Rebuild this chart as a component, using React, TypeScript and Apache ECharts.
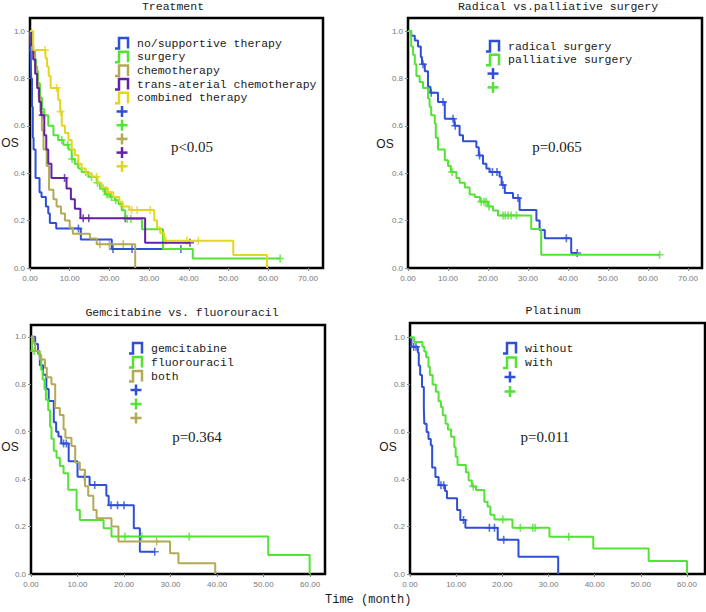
import React, { useEffect, useRef } from 'react';
import * as echarts from 'echarts';

const BLUE = '#2E4FD6';
const GREEN = '#52E334';
const OLIVE = '#B2AA55';
const PURPLE = '#6322A6';
const YELLOW = '#E2D61E';

// ---------- Panel titles / texts ----------
const titles = ['Treatment', 'Radical vs.palliative surgery', 'Gemcitabine vs. fluorouracil', 'Platinum'];
const pValues = ['p<0.05', 'p=0.065', 'p=0.364', 'p=0.011'];
const xTicksWide = [0, 10, 20, 30, 40, 50, 60, 70];
const xTicksNarrow = [0, 10, 20, 30, 40, 50, 60];
const yTicks = [0, 0.2, 0.4, 0.6, 0.8, 1.0];

// ---------- Panel 1: Treatment ----------
const p1Names = ['no/supportive therapy', 'surgery', 'chemotherapy', 'trans-aterial chemotherapy', 'combined therapy'];
const p1NoneT = [0, 0.15, 0.3, 0.5, 0.7, 0.9, 1.4, 2.4, 2.9, 4.0, 4.6, 5.0, 6.6, 12.8, 20.6, 38];
const p1NoneS = [1.0, 0.9, 0.8, 0.68, 0.55, 0.5, 0.38, 0.32, 0.3, 0.26, 0.23, 0.19, 0.167, 0.12, 0.08, 0.08];
const p1NoneC = [12.2, 20.9, 25.7, 38];

const p1SurgT = [0, 0.3, 0.7, 1.0, 1.5, 2.0, 2.5, 3.0, 3.6, 4.6, 5.9, 7.1, 8.4, 9.7, 10.5, 11.3, 12.2, 13.0, 14.7, 16.8, 17.6, 18.9, 20.2, 21.4, 22.3, 23.1, 24.0, 28.2, 33.5, 41, 63];
const p1SurgS = [1.0, 0.95, 0.92, 0.88, 0.83, 0.78, 0.72, 0.67, 0.645, 0.6, 0.56, 0.54, 0.52, 0.5, 0.46, 0.44, 0.42, 0.405, 0.385, 0.36, 0.335, 0.31, 0.3, 0.286, 0.27, 0.244, 0.207, 0.163, 0.08, 0.04, 0.04];
const p1SurgC = [8.0, 9.5, 10.6, 12.0, 14.0, 15.5, 17.0, 18.4, 19.4, 20.5, 21.6, 24.5, 25.4, 63];

const p1ChemoT = [0, 0.5, 1.3, 1.8, 2.2, 2.6, 3.0, 3.4, 4.2, 4.8, 5.9, 6.7, 7.8, 8.8, 10.0, 10.8, 15.1, 16.8, 26.5];
const p1ChemoS = [1.0, 0.92, 0.85, 0.78, 0.72, 0.66, 0.58, 0.5, 0.43, 0.33, 0.29, 0.26, 0.23, 0.2, 0.17, 0.145, 0.124, 0.1, 0.0];
const p1ChemoC = [0.8, 17.6, 20.0, 23.5];

const p1TaceT = [0, 0.3, 0.8, 1.3, 1.8, 2.3, 2.8, 3.6, 4.1, 4.6, 5.4, 9.2, 10.3, 11.3, 12.7, 29, 40.3];
const p1TaceS = [1.0, 0.94, 0.88, 0.82, 0.76, 0.7, 0.645, 0.56, 0.5, 0.44, 0.38, 0.335, 0.29, 0.25, 0.21, 0.107, 0.107];
const p1TaceC = [3.2, 8.7, 13.4, 14.8, 24.0, 40.3];

const p1CombT = [0, 0.8, 3.9, 4.3, 4.7, 5.2, 5.9, 7.1, 7.6, 8.0, 8.8, 9.7, 10.5, 11.3, 12.2, 13.0, 14.0, 15.5, 17.0, 18.0, 19.5, 21.0, 22.5, 23.3, 25.0, 31.3, 32.0, 32.8, 33.8, 51.2, 59.7];
const p1CombS = [1.0, 0.92, 0.885, 0.85, 0.81, 0.76, 0.76, 0.71, 0.66, 0.6, 0.57, 0.54, 0.5, 0.476, 0.44, 0.42, 0.4, 0.385, 0.36, 0.34, 0.32, 0.3, 0.28, 0.26, 0.245, 0.2, 0.17, 0.147, 0.115, 0.055, 0.0];
const p1CombC = [3.8, 6.7, 7.7, 16.8, 19.7, 23.5, 25.6, 27.0, 30.3, 34.2, 39.5, 42.4];

// ---------- Panel 2: Radical vs palliative ----------
const p2Names = ['radical surgery', 'palliative surgery'];
const p2RadT = [0, 0.8, 1.7, 2.5, 3.2, 3.5, 4.2, 5.0, 5.6, 7.5, 9.2, 11.6, 12.9, 13.75, 17.1, 17.7, 18.75, 19.6, 20.4, 22.9, 23.4, 24.2, 26.25, 27.9, 32.1, 32.9, 34.2, 40.8, 42.3];
const p2RadS = [1.0, 0.98, 0.96, 0.935, 0.89, 0.86, 0.83, 0.765, 0.74, 0.7, 0.63, 0.6, 0.56, 0.535, 0.51, 0.475, 0.44, 0.42, 0.405, 0.385, 0.35, 0.316, 0.295, 0.245, 0.2, 0.16, 0.126, 0.063, 0.063];
const p2RadC = [3.75, 5.8, 8.75, 11.25, 11.8, 17.9, 21.1, 22.25, 23.75, 27.5, 39.6, 42.3];

const p2PalT = [0, 0.8, 1.25, 1.7, 2.1, 2.9, 3.75, 5.0, 5.4, 5.8, 6.7, 6.95, 7.5, 9.2, 10.0, 10.7, 12.1, 12.9, 14.2, 15.4, 16.7, 18.0, 20.0, 21.25, 22.5, 30.8, 33.3, 62.9];
const p2PalS = [1.0, 0.935, 0.9, 0.86, 0.81, 0.785, 0.76, 0.715, 0.68, 0.645, 0.61, 0.55, 0.5, 0.455, 0.43, 0.405, 0.38, 0.36, 0.34, 0.31, 0.3, 0.28, 0.26, 0.243, 0.222, 0.165, 0.056, 0.056];
const p2PalC = [11.0, 18.3, 19.0, 19.5, 20.25, 23.75, 24.3, 25.0, 25.8, 27.1, 62.9];

// ---------- Panel 3: Gemcitabine vs fluorouracil ----------
const p3Names = ['gemcitabine', 'fluorouracil', 'both'];
const p3GemT = [0, 0.9, 1.5, 1.9, 2.6, 3.3, 3.8, 4.9, 5.4, 5.9, 6.5, 8.1, 10.0, 12.6, 16.2, 16.7, 22.1, 23.4, 26.6];
const p3GemS = [1.0, 0.97, 0.93, 0.88, 0.84, 0.78, 0.73, 0.64, 0.6, 0.58, 0.55, 0.475, 0.41, 0.375, 0.33, 0.29, 0.193, 0.094, 0.094];
const p3GemC = [7.0, 7.6, 11.5, 13.7, 17.2, 18.6, 20.0, 26.6];

const p3FluT = [0, 0.2, 1.6, 2.2, 2.5, 2.9, 3.2, 3.7, 4.1, 4.4, 4.9, 5.5, 6.2, 7.0, 8.0, 9.8, 10.5, 15.6, 17.3, 51, 59.9];
const p3FluS = [1.0, 0.94, 0.925, 0.86, 0.82, 0.78, 0.735, 0.69, 0.62, 0.57, 0.52, 0.49, 0.455, 0.425, 0.355, 0.27, 0.228, 0.193, 0.158, 0.08, 0.0];
const p3FluC = [0.7, 20.2, 23.8, 34.0];

const p3BothT = [0, 0.5, 0.9, 1.9, 3.0, 3.4, 4.4, 5.2, 6.2, 7.0, 7.4, 8.7, 9.5, 10.5, 11.6, 12.3, 13.4, 14.1, 17.3, 18.8, 29.9, 31.7, 39.6];
const p3BothS = [1.0, 0.975, 0.94, 0.905, 0.87, 0.83, 0.8, 0.7, 0.67, 0.61, 0.575, 0.54, 0.47, 0.44, 0.37, 0.33, 0.27, 0.235, 0.2, 0.137, 0.087, 0.045, 0.0];
const p3BothC = [27.0];

// ---------- Panel 4: Platinum ----------
const p4Names = ['without', 'with'];
const p4WithoutT = [0, 0.3, 1.7, 1.9, 2.2, 2.6, 3.0, 3.1, 3.6, 4.0, 4.5, 4.8, 5.5, 6.2, 7.6, 8.0, 10.2, 10.9, 12.0, 19.0, 23.5, 32.1];
const p4WithoutS = [1.0, 0.96, 0.935, 0.88, 0.84, 0.79, 0.7, 0.635, 0.6, 0.57, 0.544, 0.45, 0.41, 0.375, 0.35, 0.32, 0.27, 0.228, 0.195, 0.145, 0.073, 0.0];
const p4WithoutC = [0.8, 1.3, 6.7, 7.3, 11.6, 17.2, 18.3, 20.3];

const p4WithT = [0, 0.9, 2.7, 3.1, 3.5, 4.0, 4.3, 4.9, 5.6, 6.2, 6.7, 7.1, 7.7, 8.2, 8.9, 9.6, 9.9, 10.3, 12.1, 12.7, 13.4, 14.3, 16.1, 16.8, 17.4, 18.3, 22.2, 30.2, 39.7, 51.7, 60.0];
const p4WithS = [1.0, 0.98, 0.96, 0.94, 0.915, 0.875, 0.84, 0.8, 0.77, 0.73, 0.705, 0.67, 0.635, 0.61, 0.58, 0.535, 0.495, 0.46, 0.43, 0.395, 0.37, 0.355, 0.305, 0.285, 0.25, 0.23, 0.195, 0.157, 0.108, 0.055, 0.0];
const p4WithC = [13.7, 20.1, 23.9, 26.6, 27.1, 34.4];

// ---------- layout ----------
const grids = [
  { left: 30, top: 18, width: 293, height: 250 },
  { left: 408, top: 18, width: 294, height: 250 },
  { left: 31, top: 325, width: 294, height: 249 },
  { left: 410, top: 323, width: 295, height: 251 },
];
const xMax = [73.8, 73.5, 63.2, 63.9];
const yMax = [1.055, 1.055, 1.05, 1.06];

const PLUS = 'path://M4,0H6V4H10V6H6V10H4V6H0V4H4Z';

function stepValue(T: number[], S: number[], t: number) {
  let v = S[0];
  for (let i = 0; i < T.length; i++) if (T[i] <= t) v = S[i];
  return v;
}

function km(T: number[], S: number[], C: number[], color: string, idx: number) {
  return [
    {
      type: 'line',
      xAxisIndex: idx,
      yAxisIndex: idx,
      step: 'end',
      showSymbol: false,
      clip: false,
      data: T.map((t, i) => [t, S[i]]),
      lineStyle: { color, width: 2 },
      itemStyle: { color },
      silent: true,
    },
    {
      type: 'scatter',
      xAxisIndex: idx,
      yAxisIndex: idx,
      symbol: PLUS,
      symbolSize: 8,
      clip: false,
      data: C.map((c) => [c, stepValue(T, S, c)]),
      itemStyle: { color },
      silent: true,
    },
  ];
}

const MONO = '"Liberation Mono", "DejaVu Sans Mono", monospace';
const SERIF = '"Liberation Serif", "DejaVu Serif", serif';

function legendGraphics(names: string[], colors: string[], x: number, y0: number, step: number) {
  const els: any[] = [];
  names.forEach((n, i) => {
    const y = y0 + i * step;
    els.push({
      type: 'polyline',
      shape: { points: [[x, y + 5.5], [x + 4, y + 5.5], [x + 4, y - 5], [x + 13, y - 5], [x + 13, y + 5.5]] },
      style: { stroke: colors[i], lineWidth: 2.5, fill: null },
      silent: true,
    });
    els.push({
      type: 'text',
      x: x + 22,
      y,
      style: { text: n, font: `11.5px ${MONO}`, fill: '#1a1a1a', verticalAlign: 'middle', align: 'left' },
      silent: true,
    });
  });
  colors.forEach((c, i) => {
    const y = y0 + (names.length + i) * step;
    const cx = x + 7;
    els.push({ type: 'line', shape: { x1: cx - 5.5, y1: y, x2: cx + 5.5, y2: y }, style: { stroke: c, lineWidth: 2.5 }, silent: true });
    els.push({ type: 'line', shape: { x1: cx, y1: y - 5.5, x2: cx, y2: y + 5.5 }, style: { stroke: c, lineWidth: 2.5 }, silent: true });
  });
  return els;
}

function textEl(text: string, x: number, y: number, font: string, align = 'center', fill = '#1a1a1a') {
  return { type: 'text', x, y, style: { text, font, fill, align, verticalAlign: 'middle' }, silent: true };
}

export default function App() {
  const ref = useRef<HTMLDivElement>(null);
  useEffect(() => {
    if (!ref.current) return;
    const chart = echarts.init(ref.current, undefined, { renderer: 'svg' });

    const xAxes = grids.map((_, i) => ({
      type: 'value',
      gridIndex: i,
      min: 0,
      max: xMax[i],
      axisLine: { show: false },
      splitLine: { show: false },
      axisTick: { show: true, length: 3, customValues: i < 2 ? xTicksWide : xTicksNarrow, lineStyle: { color: '#888', width: 1 } },
      axisLabel: {
        customValues: i < 2 ? xTicksWide : xTicksNarrow,
        formatter: (v: number) => v.toFixed(2),
        color: '#777',
        fontSize: 8,
        fontFamily: '"Liberation Sans", sans-serif',
        margin: 6,
      },
    }));
    const yAxes = grids.map((_, i) => ({
      type: 'value',
      gridIndex: i,
      min: 0,
      max: yMax[i],
      axisLine: { show: false },
      splitLine: { show: false },
      axisTick: { show: true, length: 3, customValues: yTicks, lineStyle: { color: '#888', width: 1 } },
      axisLabel: {
        customValues: yTicks,
        formatter: (v: number) => v.toFixed(1),
        color: '#777',
        fontSize: 8,
        fontFamily: '"Liberation Sans", sans-serif',
        margin: 5,
      },
    }));

    const series: any[] = [
      ...km(p1NoneT, p1NoneS, p1NoneC, BLUE, 0),
      ...km(p1SurgT, p1SurgS, p1SurgC, GREEN, 0),
      ...km(p1ChemoT, p1ChemoS, p1ChemoC, OLIVE, 0),
      ...km(p1TaceT, p1TaceS, p1TaceC, PURPLE, 0),
      ...km(p1CombT, p1CombS, p1CombC, YELLOW, 0),
      ...km(p2RadT, p2RadS, p2RadC, BLUE, 1),
      ...km(p2PalT, p2PalS, p2PalC, GREEN, 1),
      ...km(p3GemT, p3GemS, p3GemC, BLUE, 2),
      ...km(p3FluT, p3FluS, p3FluC, GREEN, 2),
      ...km(p3BothT, p3BothS, p3BothC, OLIVE, 2),
      ...km(p4WithoutT, p4WithoutS, p4WithoutC, BLUE, 3),
      ...km(p4WithT, p4WithS, p4WithC, GREEN, 3),
    ];

    const titleFont = `11.5px ${MONO}`;
    const osFont = '12px "Liberation Sans", sans-serif';
    const graphic: any[] = [
      textEl(titles[0], 173, 6, titleFont),
      textEl(titles[1], 558, 6, titleFont),
      textEl(titles[2], 182, 312, titleFont),
      textEl(titles[3], 553, 310, titleFont),
      textEl(pValues[0], 192, 147, `15px ${SERIF}`),
      textEl(pValues[1], 557, 147, `15px ${SERIF}`),
      textEl(pValues[2], 197, 437, `15px ${SERIF}`),
      textEl(pValues[3], 545, 437, `15px ${SERIF}`),
      textEl('OS', 10, 143, osFont),
      textEl('OS', 385, 144, osFont),
      textEl('OS', 10, 447, osFont),
      textEl('OS', 388, 447, osFont),
      textEl('Time (month)', 325, 600, `12px ${MONO}`, 'left'),
      ...legendGraphics(p1Names, [BLUE, GREEN, OLIVE, PURPLE, YELLOW], 115, 43, 13.7),
      ...legendGraphics(p2Names, [BLUE, GREEN], 486, 46, 13.8),
      ...legendGraphics(p3Names, [BLUE, GREEN, OLIVE], 129, 348, 14),
      ...legendGraphics(p4Names, [BLUE, GREEN], 503, 348, 14.5),
    ];

    chart.setOption({
      animation: false,
      backgroundColor: '#fff',
      grid: grids.map((g) => ({ ...g, show: true, borderColor: '#000', borderWidth: 2.5, backgroundColor: 'transparent', containLabel: false })),
      xAxis: xAxes,
      yAxis: yAxes,
      series,
      graphic,
    });
    return () => chart.dispose();
  }, []);
  return <div ref={ref} style={{ position: 'absolute', left: 0, top: 0, width: 706, height: 612 }} />;
}
